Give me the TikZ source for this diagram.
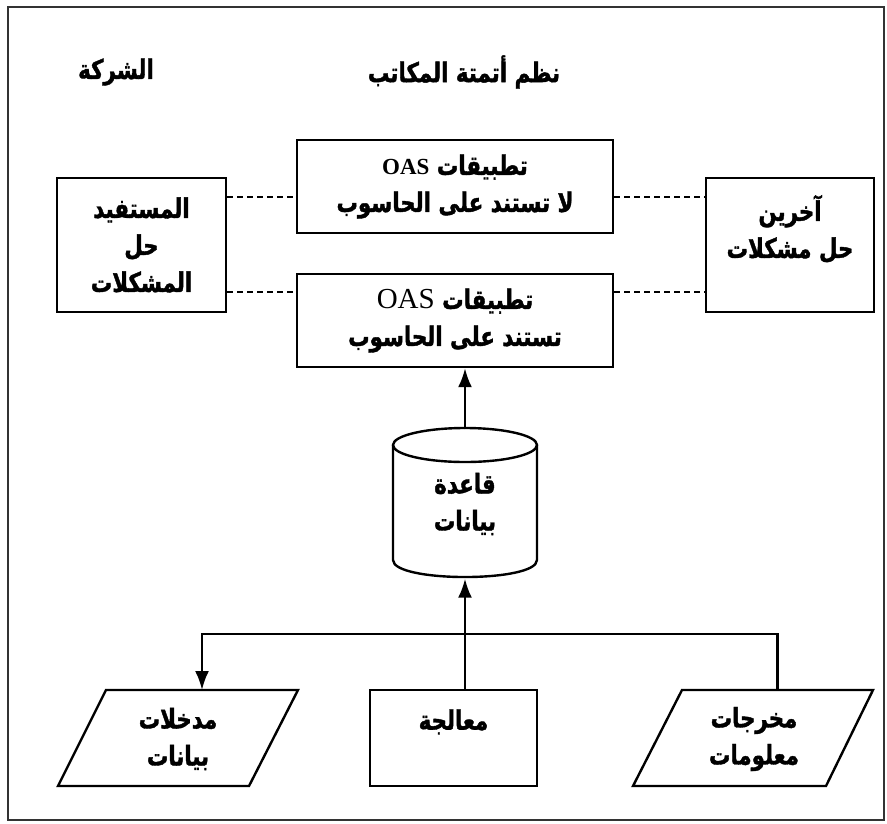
\documentclass[tikz,border=0pt]{standalone}
\usepackage{fontspec}
\usetikzlibrary{arrows.meta}
\TeXXeTstate=1
\newfontfamily\arabicfont[Script=Arabic,FakeStretch=0.79,FakeBold=1.4]{DejaVu Sans}
\newfontfamily\timesfont{Liberation Serif}
\newcommand{\rtlline}[1]{\beginR #1\endR}
\tikzset{
  box/.style={draw, line width=2.4pt, align=center, inner sep=0pt},
  txt/.style={font={\arabicfont\bfseries\fontsize{27}{37}\selectfont}, align=center, inner sep=0pt},
  conn/.style={line width=2.4pt},
  arr/.style={conn, -{Latex[length=19pt,width=14pt]}},
  dashline/.style={line width=1.4pt, dash pattern=on 6pt off 4pt},
  frame/.style={draw=black!80, line width=1.6pt},
}
\begin{document}
\begin{tikzpicture}[x=1pt,y=-1pt]
\useasboundingbox (0,0) rectangle (887,823);
\draw[frame] (8,7) rectangle (884,820);

% titles
\node[txt] (firm) at (116,72) {\rtlline{الشركة}};
\node[txt] (oastitle) at (464,72) {\rtlline{نظم أتمتة المكاتب}};

% middle boxes
\node[box, txt, minimum width=316, minimum height=93] (app1) at (455,186.5)
  {\rtlline{تطبيقات \beginL{\timesfont\bfseries\fontsize{23}{23}\selectfont OAS}\endL}\\ \rtlline{لا تستند على الحاسوب}};
\node[box, txt, minimum width=316, minimum height=93] (app2) at (455,320.5)
  {\rtlline{تطبيقات \beginL{\timesfont\mdseries\fontsize{29}{29}\selectfont OAS}\endL}\\ \rtlline{تستند على الحاسوب}};

% side boxes
\node[box, txt, minimum width=169, minimum height=134] (user) at (141.5,245)
  {\rtlline{المستفيد}\\ \rtlline{حل}\\ \rtlline{المشكلات}};
\node[box, txt, minimum width=168, minimum height=134] (others) at (790,245)
  {\rtlline{آخرين}\\ \rtlline{حل مشكلات}\\ \mbox{}};

% dashed links
\draw[dashline] (user.east |- 0,197) -- (app1.west |- 0,197);
\draw[dashline] (app1.east |- 0,197) -- (others.west |- 0,197);
\draw[dashline] (user.east |- 0,292) -- (app2.west |- 0,292);
\draw[dashline] (app2.east |- 0,292) -- (others.west |- 0,292);

% database cylinder
\node[txt, minimum width=144, minimum height=149] (db) at (465,504) {\rtlline{قاعدة}\\ \rtlline{بيانات}};
\draw[conn] (465,445) ellipse [x radius=72, y radius=17];
\draw[conn] (393,445) -- (393,560) .. controls (393,582.7) and (537,582.7) .. (537,560) -- (537,445);

% bottom row
\node[box, txt, minimum width=167, minimum height=96] (proc) at (453.5,738)
  {\rtlline{معالجة}\\ \mbox{}};
\node[txt] (inp) at (178,739) {\rtlline{مدخلات}\\ \rtlline{بيانات}};
\draw[conn] (106,690) -- (298,690) -- (249,786) -- (58,786) -- cycle;
\coordinate (inpTop) at (202,690);
\node[txt] (outp) at (754,739) {\rtlline{مخرجات}\\ \rtlline{معلومات}};
\draw[conn] (682,690) -- (873,690) -- (826,786) -- (633,786) -- cycle;
\coordinate (outpTop) at (777.5,690);

% connectors
\draw[arr] (db.north) -- (db.north |- app2.south);
\draw[arr] (db.south |- proc.north) -- (db.south);
\draw[arr] (outpTop) -- (outpTop |- 0,634) -| (inpTop);
\end{tikzpicture}
\end{document}
